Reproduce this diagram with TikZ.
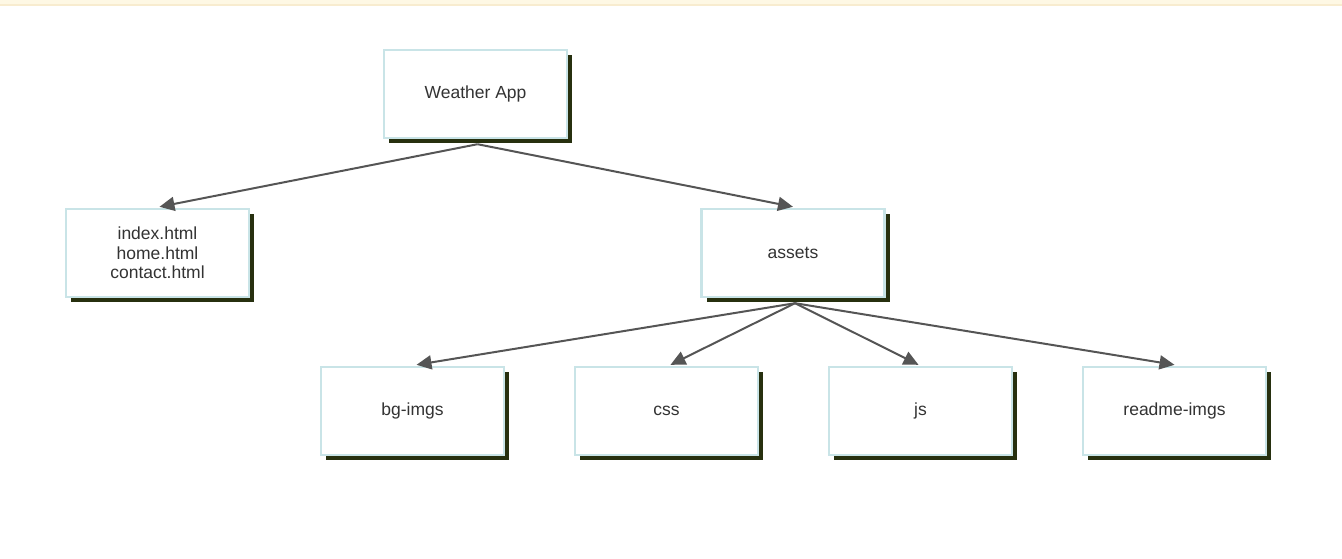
\documentclass[tikz,border=0pt]{standalone}
\usepackage{fontspec}
\setmainfont{Liberation Sans}
\usetikzlibrary{arrows.meta,shadows,calc}
\definecolor{boxborder}{HTML}{C9E4E7}
\definecolor{shadowc}{HTML}{27300F}
\definecolor{linec}{HTML}{555555}
\definecolor{textc}{HTML}{333333}
\definecolor{bannerc}{HTML}{FEF8E4}
\definecolor{bannerl}{HTML}{F8ECCF}
\begin{document}
\begin{tikzpicture}[x=1pt,y=-1pt,
  box/.style={draw=boxborder, line width=2.4pt, fill=white, minimum width=183pt, minimum height=88pt,
    inner sep=0pt, align=center, text=textc, font=\fontsize{17.5}{19.5}\selectfont,
    general shadow={fill=shadowc, shadow xshift=5pt, shadow yshift=-5pt}},
  arr/.style={draw=linec, line width=2pt, -{Triangle[length=15pt,width=14pt]}}]
\useasboundingbox (0,0) rectangle (1342,558);
\fill[bannerc] (0,0) rectangle (1342,5);
\fill[bannerl] (0,4) rectangle (1342,6);
\node[box] (wa) at (475.5,94) {Weather App};
\node[box] (idx) at (157.5,253) {index.html\\home.html\\contact.html};
\node[box] (as) at (793,253) {assets};
\node[box] (bg) at (412.5,411) {bg-imgs};
\node[box] (css) at (666.5,411) {css};
\node[box] (js) at (920.5,411) {js};
\node[box] (rd) at (1174.5,411) {readme-imgs};
\coordinate (waout) at ($(wa.south)+(2,5)$);
\coordinate (asout) at ($(as.south)+(2,5)$);
\draw[arr] (waout) -- ($(idx.north)+(2,-1)$);
\draw[arr] (waout) -- ($(as.north)+(0,-1)$);
\draw[arr] (asout) -- ($(bg.north)+(4,-1)$);
\draw[arr] (asout) -- ($(css.north)+(4,-1)$);
\draw[arr] (asout) -- ($(js.north)+(-2,-1)$);
\draw[arr] (asout) -- ($(rd.north)+(0,-1)$);
\end{tikzpicture}
\end{document}
